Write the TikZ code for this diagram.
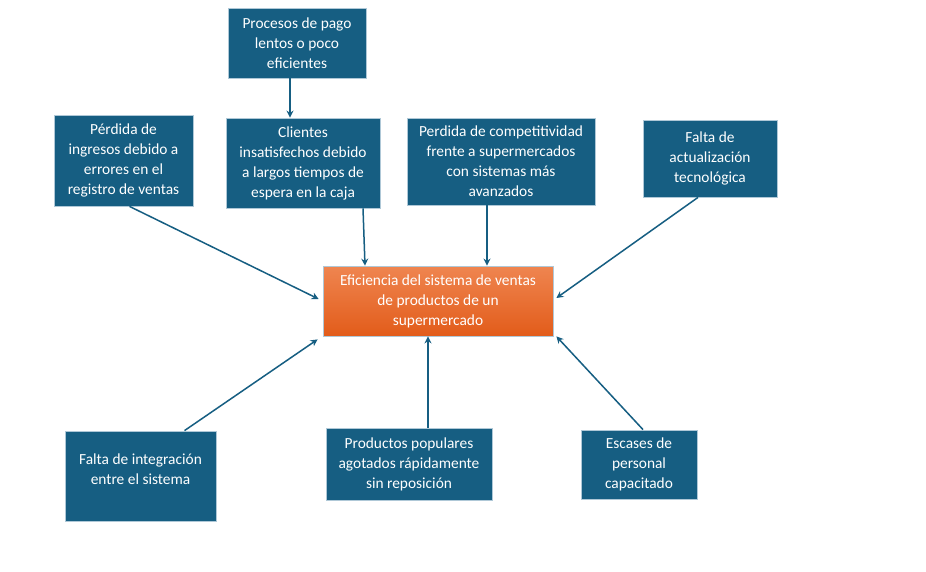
\documentclass[tikz,border=0pt]{standalone}
\usepackage{fontspec}
\setmainfont{Carlito}
\usepackage{tikz}
\usetikzlibrary{arrows,arrows.meta,shapes,positioning,calc}
\usepackage{xcolor}
\definecolor{efblue}{RGB}{22,94,130}
\definecolor{efborder}{RGB}{175,200,215}
\definecolor{eforangetop}{RGB}{239,133,80}
\definecolor{eforangebot}{RGB}{226,92,26}
\tikzstyle{arrow} = [line width=1.5pt,->,>={Stealth[length=7pt,width=7pt]},color=efblue]
\tikzstyle{cause} = [rectangle, align=center, draw=efborder, fill=efblue, line width=0.8pt, text=white, font=\fontsize{15.4}{20}\selectfont, inner sep=2pt]
\tikzstyle{effect} = [rectangle, align=center, draw=efborder, top color=eforangetop, bottom color=eforangebot, line width=0.8pt, text=white, font=\fontsize{15.4}{20}\selectfont, inner sep=2pt]

\begin{document}
\begin{tikzpicture}[x=1pt, y=-1pt]
    \useasboundingbox[fill=white] (0,0) rectangle (926,572);
    % Nodes
    \node[cause, minimum width=138pt, minimum height=70pt] (proceso) at (297,43) {Procesos de pago\\lentos o poco\\eficientes};
    \node[cause, minimum width=154pt, minimum height=90pt] (clientes) at (303,163) {Clientes\\insatisfechos debido\\a largos tiempos de\\espera en la caja};
    \node[cause, minimum width=139pt, minimum height=91pt] (perdida) at (123.5,160.5) {Pérdida de\\ingresos debido a\\errores en el\\registro de ventas};
    \node[cause, minimum width=188pt, minimum height=87pt] (competencia) at (501,161.5) {Perdida de competitividad\\frente a supermercados\\con sistemas más\\avanzados};
    \node[cause, minimum width=134pt, minimum height=77pt] (actualizacion) at (710,158.5) {Falta de\\actualización\\tecnológica};
    \node[effect, minimum width=230pt, minimum height=70pt] (eficiencia) at (438,301) {Eficiencia del sistema de ventas\\de productos de un\\supermercado};
    \node[cause, minimum width=151pt, minimum height=90pt, text depth=14pt] (integracion) at (140.5,476) {Falta de integración\\entre el sistema};
    \node[cause, minimum width=166pt, minimum height=72pt] (productos) at (409,464) {Productos populares\\agotados rápidamente\\sin reposición};
    \node[cause, minimum width=116pt, minimum height=69pt] (escases) at (639,464.5) {Escases de\\personal\\capacitado};

    % Arrows
    \draw[arrow] ([xshift=-7pt]proceso.south) -- ([xshift=-13pt]clientes.north);
    \draw[arrow] ([xshift=6pt]perdida.south) -- ([xshift=-4pt, yshift=2pt]eficiencia.west);
    \draw[arrow] ([xshift=60pt]clientes.south) -- ([xshift=-73pt]eficiencia.north);
    \draw[arrow] ([xshift=-14pt]competencia.south) -- ([xshift=49pt]eficiencia.north);
    \draw[arrow] ([xshift=-12pt]actualizacion.south) -- ([xshift=3pt, yshift=3pt]eficiencia.east);
    \draw[arrow] ([xshift=44pt]integracion.north) -- ([xshift=-5pt, yshift=-3pt]eficiencia.south west);
    \draw[arrow] ([xshift=19pt]productos.north) -- ([xshift=-10pt]eficiencia.south);
    \draw[arrow] ([xshift=4pt]escases.north) -- ([xshift=3pt]eficiencia.south east);
\end{tikzpicture}
\end{document}
